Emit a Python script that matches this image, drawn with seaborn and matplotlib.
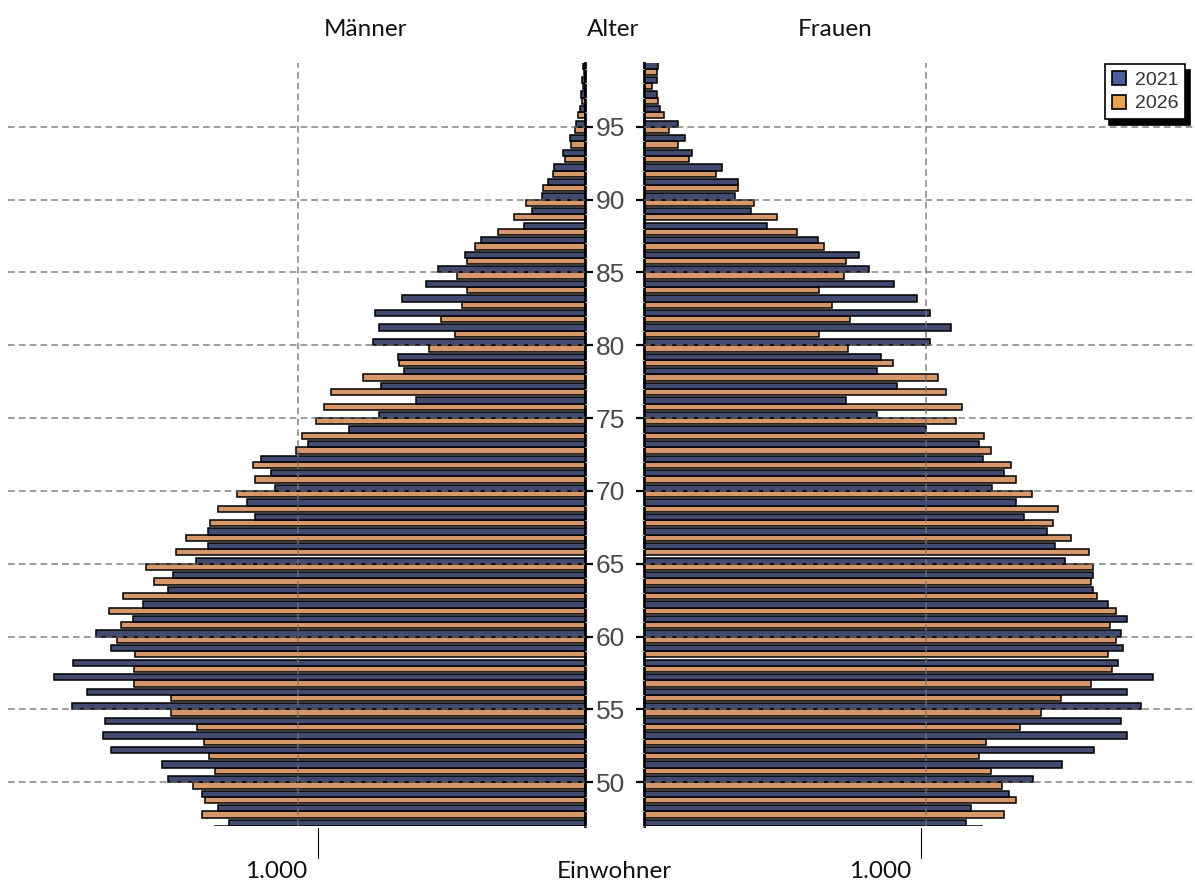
import numpy as np
import pandas as pd
import matplotlib
matplotlib.use("Agg")
import matplotlib.pyplot as plt
from matplotlib.lines import Line2D
from matplotlib.patches import Patch
import seaborn as sns

# ---------------- data (ages 47..99) ----------------
ages = list(range(47, 100))

men_2021 = [1241, 1277, 1334, 1454, 1474, 1652, 1680, 1673, 1786, 1736,
            1849, 1785, 1652, 1702, 1576, 1539, 1454, 1434, 1354, 1313,
            1313, 1150, 1179, 1080, 1094, 1129, 965, 823, 717, 589,
            711, 630, 652, 737, 718, 732, 639, 554, 511, 418,
            362, 212, 186, 151, 128, 107, 77, 51, 31, 17,
            13, 10, 6]
men_2026 = [1290, 1333, 1323, 1366, 1290, 1310, 1326, 1353, 1443, 1443,
            1572, 1572, 1567, 1629, 1616, 1658, 1609, 1503, 1530, 1426,
            1390, 1305, 1277, 1212, 1150, 1157, 1006, 986, 937, 908,
            885, 772, 648, 543, 453, 503, 430, 412, 447, 412,
            383, 303, 247, 204, 147, 111, 71, 48, 35, 24,
            11, 8, 4]
women_2021 = [1142, 1162, 1295, 1380, 1484, 1599, 1716, 1693, 1765, 1716,
              1808, 1684, 1700, 1693, 1714, 1649, 1596, 1596, 1497, 1461,
              1431, 1348, 1322, 1235, 1279, 1205, 1190, 1000, 828, 718,
              900, 828, 841, 1015, 1090, 1015, 971, 887, 799, 765,
              619, 437, 380, 322, 335, 277, 169, 146, 119, 58,
              45, 45, 51]
women_2026 = [1200, 1278, 1322, 1270, 1234, 1191, 1214, 1335, 1410, 1481,
              1588, 1662, 1649, 1676, 1655, 1676, 1609, 1588, 1596, 1582,
              1518, 1451, 1470, 1378, 1321, 1304, 1233, 1209, 1108, 1128,
              1072, 1043, 885, 724, 623, 733, 669, 623, 710, 718,
              639, 545, 473, 392, 335, 254, 159, 119, 88, 72,
              49, 28, 45]

years = ["2021", "2026"]
age_ticks = list(range(50, 100, 5))
x_tick_label = "1.000"

# ---------------- long table ----------------
rows = []
for sex, s21, s26 in (("Männer", men_2021, men_2026), ("Frauen", women_2021, women_2026)):
    for a, v1, v2 in zip(ages, s21, s26):
        rows.append((sex, a, "2021", v1))
        rows.append((sex, a, "2026", v2))
df = pd.DataFrame(rows, columns=["sex", "age", "year", "value"])

palette = {"2021": "#434a70", "2026": "#d6976b"}
legend_colors = {"2021": "#4a5f9c", "2026": "#e9a152"}

sns.set_style("white")
plt.rcParams["font.family"] = ["Liberation Sans", "DejaVu Sans"]

W, H = 1195, 889
fig = plt.figure(figsize=(W / 100, H / 100), dpi=100)
fig.patch.set_facecolor("white")

def fx(px):
    return px / W

def fy(py):
    return 1 - py / H

top_px, bot_px = 63, 826
ax_l = fig.add_axes([fx(8), fy(bot_px), fx(585 - 8), (bot_px - top_px) / H])
ax_r = fig.add_axes([fx(644), fy(bot_px), fx(1195 - 644), (bot_px - top_px) / H])

ylo, yhi = 47.12, 99.38

for ax, sex in ((ax_l, "Männer"), (ax_r, "Frauen")):
    sub = df[df["sex"] == sex]
    sns.barplot(data=sub, x="value", y="age", hue="year", hue_order=["2026", "2021"],
                orient="h", native_scale=True, width=0.86, dodge=True,
                palette=palette, edgecolor="black", linewidth=1.1,
                legend=False, ax=ax, errorbar=None, saturation=1)
    ax.set_ylim(ylo, yhi)
    ax.set_xlabel("")
    ax.set_ylabel("")
    ax.set_yticks(age_ticks)
    ax.set_yticks(ages, minor=True)
    ax.set_xticks([1000])
    ax.set_axisbelow(False)
    ax.grid(True, axis="both", which="major", color="#707070",
            linestyle=(0, (4, 2.5)), linewidth=1.2, alpha=0.8)
    ax.tick_params(axis="x", length=0, labelbottom=False, labeltop=False)
    for s in ax.spines.values():
        s.set_visible(False)
    ax.set_facecolor("white")

ax_l.set_xlim(2010, 0)
ax_r.set_xlim(0, 1957)

# left axes: centre line and age labels on its right side
ax_l.spines["right"].set_visible(True)
ax_l.spines["right"].set_linewidth(2)
ax_l.spines["right"].set_color("black")
ax_l.yaxis.tick_right()
ax_l.tick_params(axis="y", which="major", length=6, width=1.6, color="black",
                 labelright=True, labelleft=False, labelsize=19,
                 labelcolor="#4a4a4a", pad=2)
ax_l.tick_params(axis="y", which="minor", length=2, width=0.8, color="#c8c8c8",
                 labelright=False, labelleft=False)
ax_l.set_yticklabels([str(a) for a in age_ticks])

ax_r.spines["left"].set_visible(True)
ax_r.spines["left"].set_linewidth(2)
ax_r.spines["left"].set_color("black")
ax_r.yaxis.tick_left()
ax_r.tick_params(axis="y", which="major", length=6, width=1.6, color="black",
                 labelleft=False, labelright=False)
ax_r.tick_params(axis="y", which="minor", length=2, width=0.8, color="#c8c8c8",
                 labelleft=False, labelright=False)

# legend
handles = [Patch(facecolor=legend_colors[y], edgecolor="black", linewidth=1.2) for y in years]
leg = fig.legend(handles, years, loc="upper left",
                 bbox_to_anchor=(fx(1105), fy(64)), bbox_transform=fig.transFigure,
                 frameon=True, fancybox=False, edgecolor="black", fontsize=14,
                 handlelength=0.75, handleheight=0.75, handletextpad=0.45,
                 labelspacing=0.3, borderpad=0.35, borderaxespad=0,
                 shadow={"ox": 3, "oy": -4, "color": "black", "alpha": 1})
leg.get_frame().set_linewidth(1.2)
for t in leg.get_texts():
    t.set_color("#333333")

# header / footer texts
lbl_font = dict(family=["Lato", "DejaVu Sans"], fontsize=17.5, color="#111111")
fig.text(fx(365), fy(30), "Männer", ha="center", va="center", **lbl_font)
fig.text(fx(613), fy(30), "Alter", ha="center", va="center", **lbl_font)
fig.text(fx(835), fy(30), "Frauen", ha="center", va="center", **lbl_font)
fig.text(fx(276), fy(871), x_tick_label, ha="center", va="center", **lbl_font)
fig.text(fx(614), fy(871), "Einwohner", ha="center", va="center", **lbl_font)
fig.text(fx(880), fy(871), x_tick_label, ha="center", va="center", **lbl_font)

for xp in (318, 921):
    fig.add_artist(Line2D([fx(xp), fx(xp)], [fy(828), fy(858)],
                          transform=fig.transFigure, color="black", linewidth=0.8))

fig.savefig("out.png", dpi=100, facecolor="white")
